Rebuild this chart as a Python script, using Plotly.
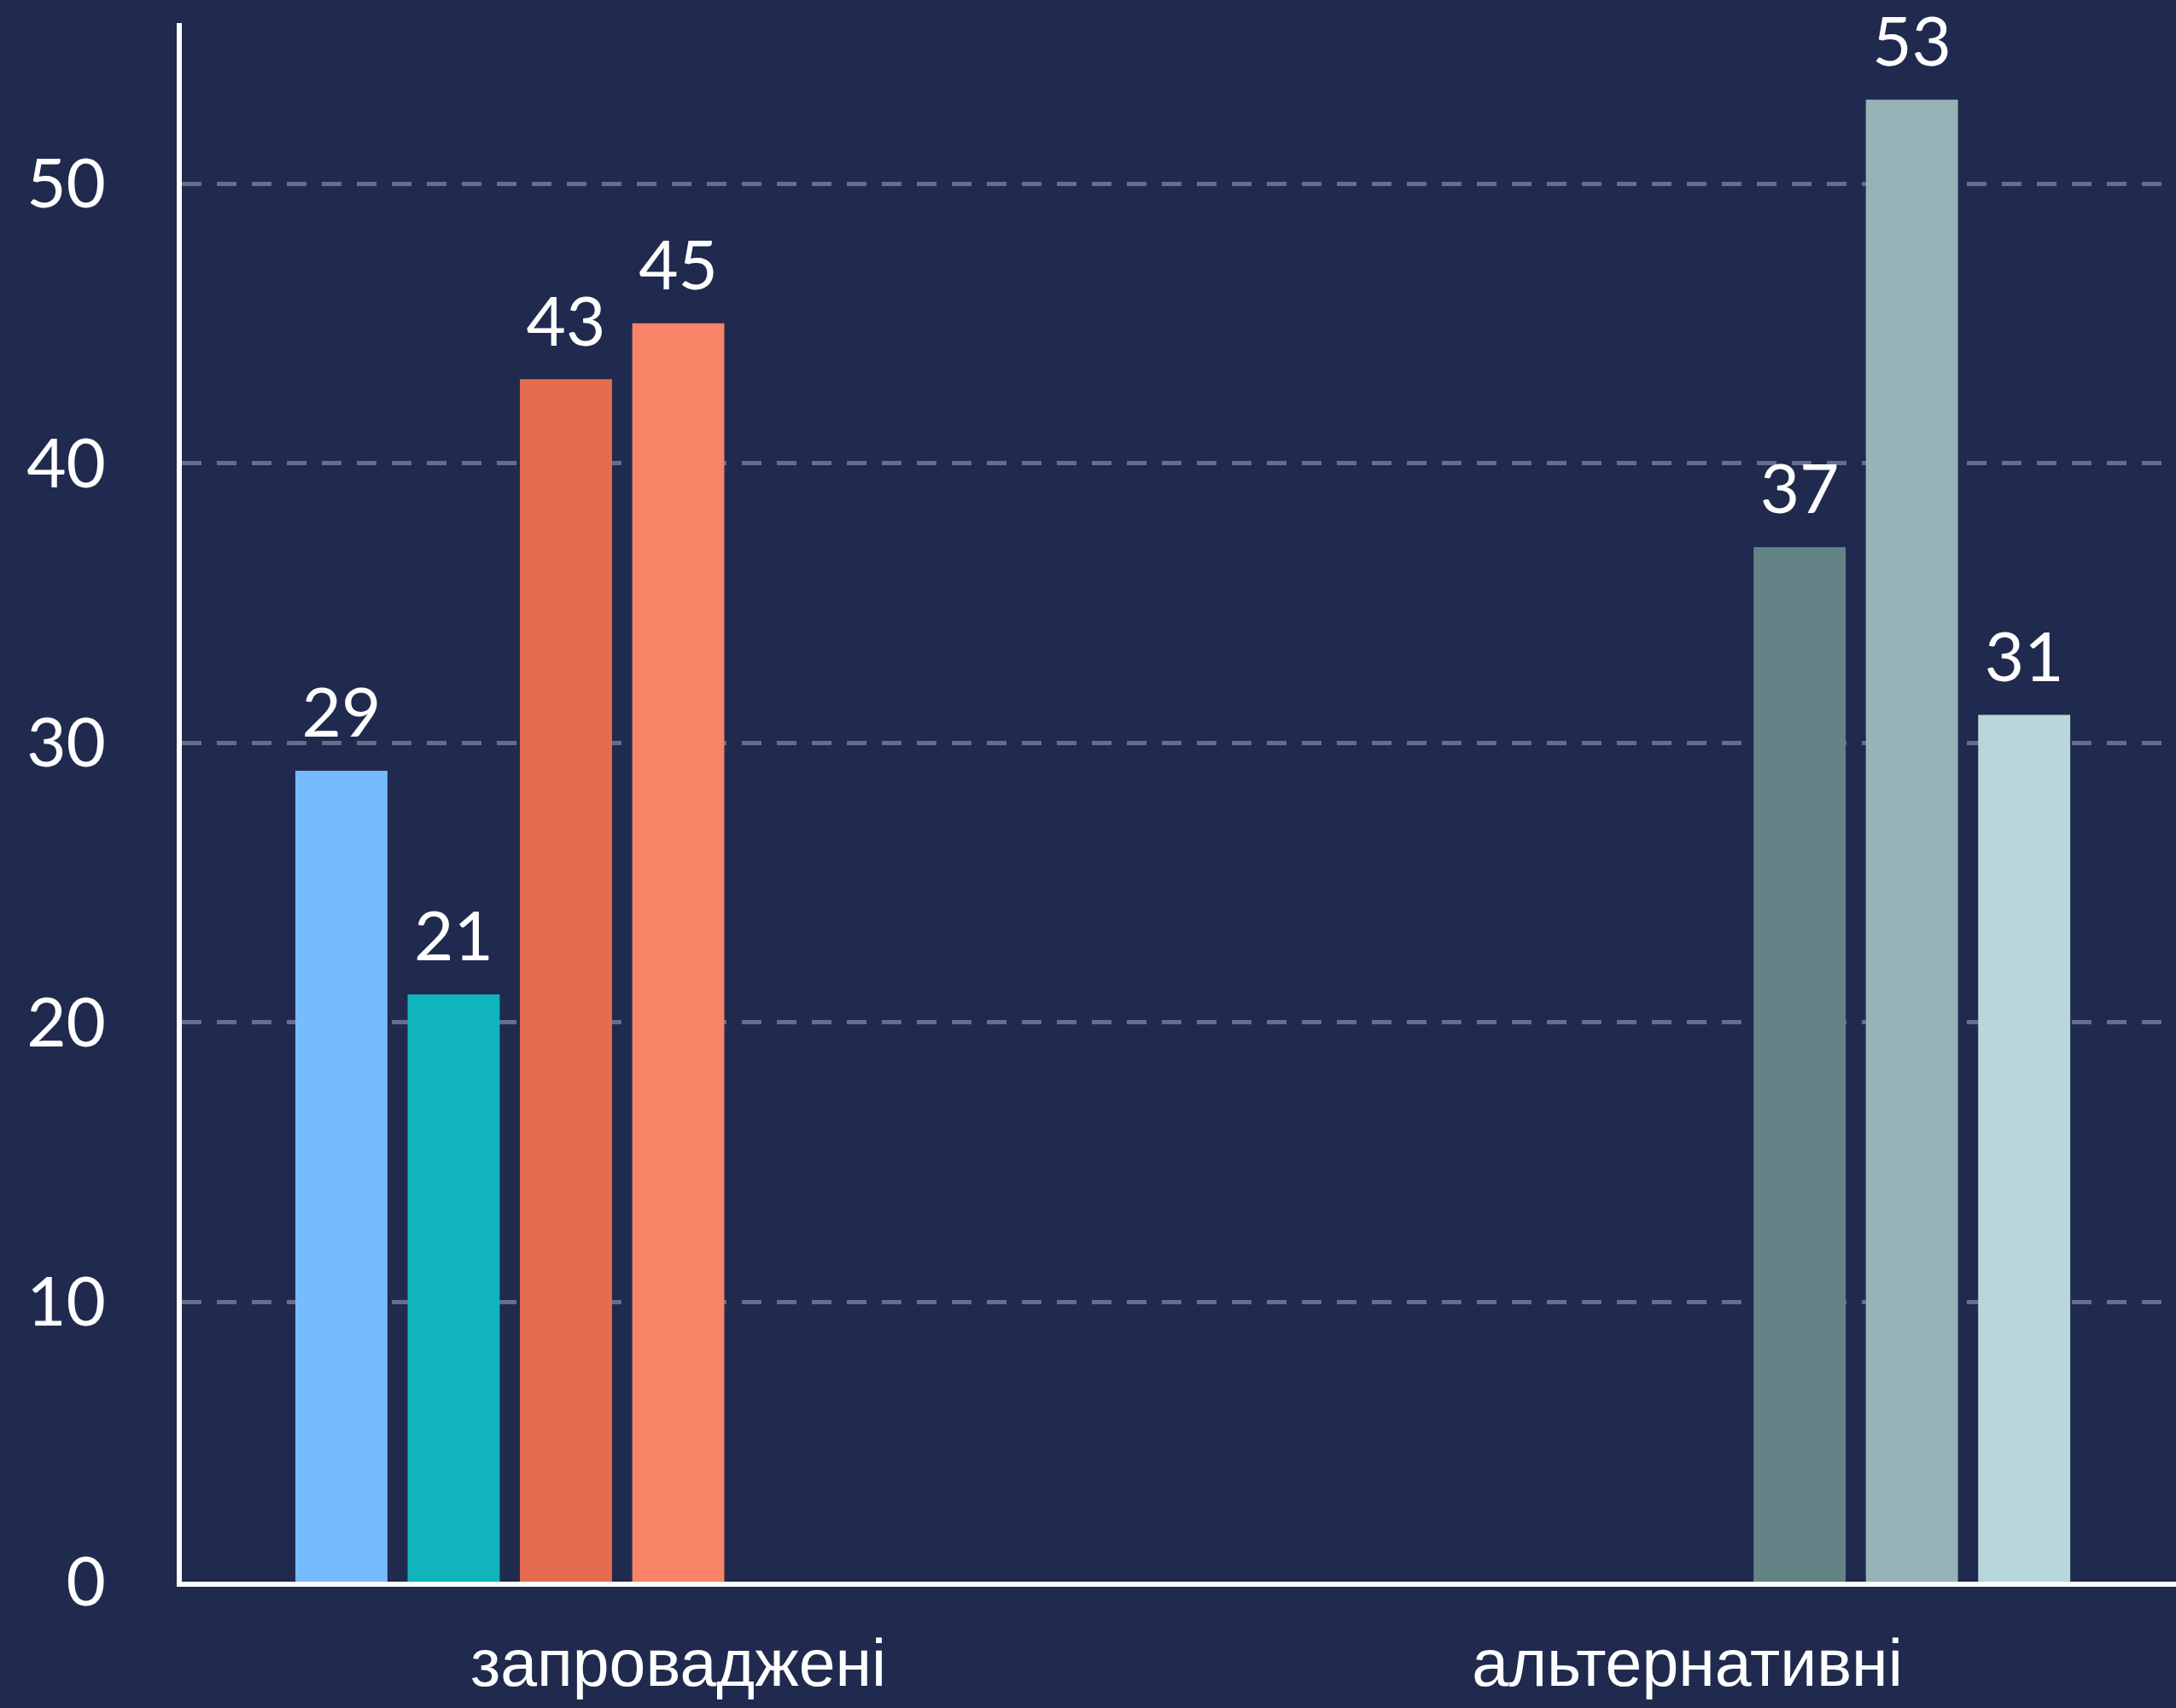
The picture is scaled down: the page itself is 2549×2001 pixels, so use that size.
import plotly.graph_objects as go

# ---- data ----
categories = ["запроваджені", "альтернативні"]
series_names = ["Ряд 1", "Ряд 2", "Ряд 3", "Ряд 4", "Ряд 5", "Ряд 6", "Ряд 7"]
series_values = [29, 21, 43, 45, 37, 53, 31]
series_category = [0, 0, 0, 0, 1, 1, 1]
y_tick_values = [0, 10, 20, 30, 40, 50]

# ---- style ----
colors = ["#77BBFF", "#10B4BD", "#E66C4F", "#F98366", "#648386", "#96B3B8", "#B8D7DD"]
bg = "#202A4E"
grid_color = "#666E8B"
bar_gap = 0.221
bar_group_gap = 0.18

fig = go.Figure()

for i, (name, val, cat) in enumerate(zip(series_names, series_values, series_category)):
    yvals = [val if c == cat else None for c in range(len(categories))]
    fig.add_trace(go.Bar(
        name=name,
        x=categories,
        y=yvals,
        offsetgroup=f"g{i}",
        marker=dict(color=colors[i], line=dict(width=0)),
        hoverinfo="skip",
    ))

for i, (name, val, cat) in enumerate(zip(series_names, series_values, series_category)):
    yvals = [val if c == cat else None for c in range(len(categories))]
    texts = [str(val) if c == cat else "" for c in range(len(categories))]
    fig.add_trace(go.Scatter(
        name=name,
        x=categories,
        y=yvals,
        mode="markers+text",
        text=texts,
        textposition="top center",
        textfont=dict(family="Lato", size=80, color="#FFFFFF"),
        marker=dict(size=30, opacity=0),
        offsetgroup=f"g{i}",
        orientation="v",
        cliponaxis=False,
        hoverinfo="skip",
        showlegend=False,
    ))

fig.update_layout(
    width=2549,
    height=2001,
    paper_bgcolor=bg,
    plot_bgcolor=bg,
    showlegend=False,
    barmode="group",
    bargap=bar_gap,
    bargroupgap=bar_group_gap,
    scattermode="group",
    scattergap=bar_gap,
    margin=dict(l=213, r=0, t=27, b=148, pad=0),
    xaxis=dict(
        type="category",
        range=[-0.492, 1.4843],
        showline=True,
        linecolor="#FFFFFF",
        linewidth=6,
        showgrid=False,
        zeroline=False,
        ticks="",
        tickfont=dict(family="Liberation Sans", size=77, color="#FFFFFF"),
        ticklabelstandoff=24,
    ),
    yaxis=dict(
        range=[0, 55.74],
        tickvals=y_tick_values,
        showline=True,
        linecolor="#FFFFFF",
        linewidth=6,
        showgrid=True,
        gridcolor=grid_color,
        gridwidth=5,
        griddash="23px,18px",
        zeroline=False,
        ticks="",
        tickfont=dict(family="Lato", size=80, color="#FFFFFF"),
        ticklabelstandoff=67,
    ),
)

fig.write_html(
    "out.html",
    config={"displayModeBar": False},
    post_script="document.body.style.margin='0';document.body.style.padding='0';document.body.style.background='" + bg + "';",
)
